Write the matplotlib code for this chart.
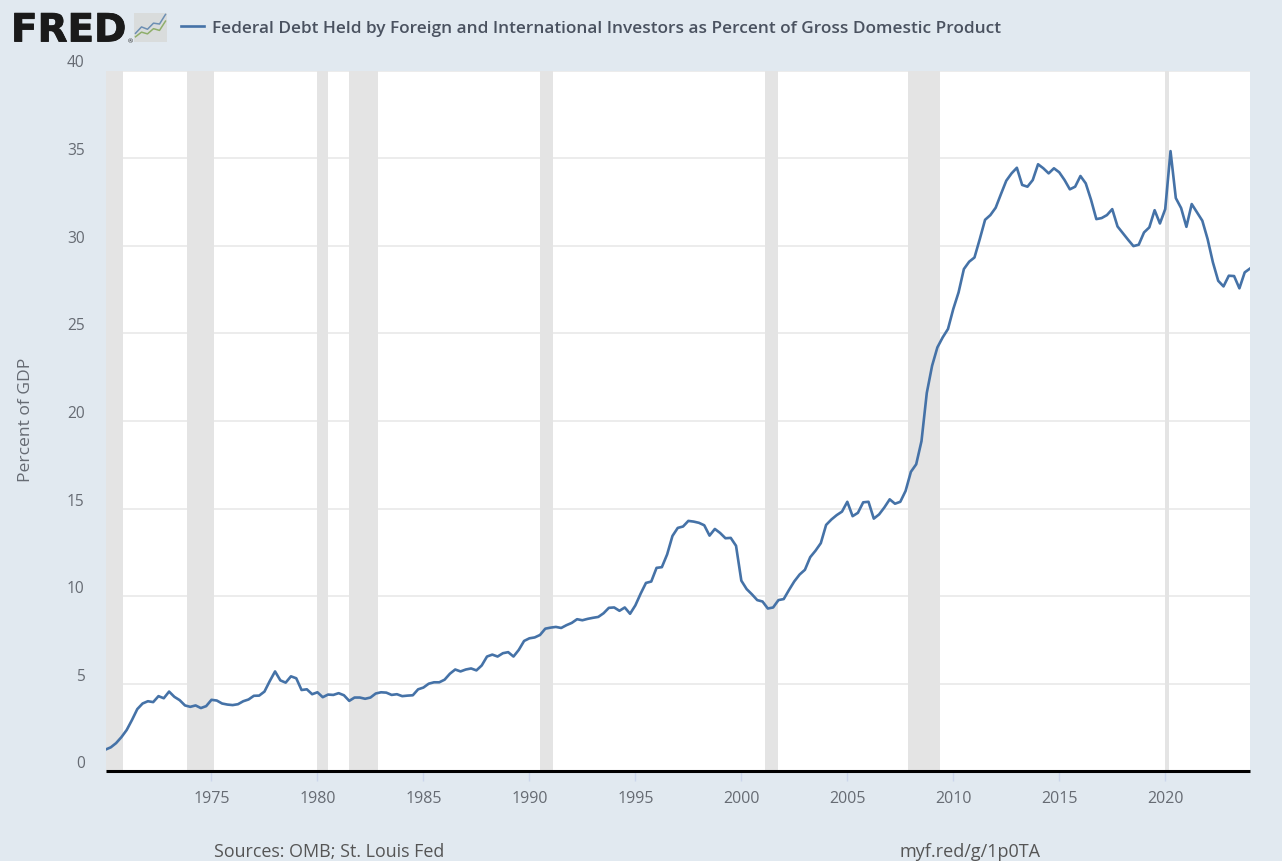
import numpy as np
import matplotlib
matplotlib.use("Agg")
import matplotlib.pyplot as plt
import matplotlib.patheffects as pe

plt.rcParams['font.family'] = ['Open Sans', 'DejaVu Sans']

# quarterly, starting 1970 Q1, percent of GDP
debt_pct = [
    1.25, 1.38, 1.62, 1.96, 2.37, 2.94, 3.56, 3.88, 4.01, 3.96, 4.30, 4.18,  # 1970-72
    4.56, 4.26, 4.07, 3.77, 3.69, 3.77, 3.62, 3.73, 4.09, 4.05, 3.88, 3.82,  # 1973-75
    3.79, 3.84, 4.01, 4.11, 4.32, 4.33, 4.56, 5.16, 5.71, 5.20, 5.07, 5.43,  # 1976-78
    5.32, 4.65, 4.69, 4.41, 4.52, 4.24, 4.39, 4.37, 4.47, 4.35, 4.03, 4.22,  # 1979-81
    4.22, 4.15, 4.22, 4.45, 4.52, 4.50, 4.37, 4.41, 4.30, 4.33, 4.35, 4.69,  # 1982-84
    4.79, 5.01, 5.09, 5.09, 5.24, 5.58, 5.82, 5.71, 5.82, 5.88, 5.77, 6.05,  # 1985-87
    6.56, 6.67, 6.56, 6.75, 6.81, 6.56, 6.94, 7.45, 7.60, 7.65, 7.79, 8.15,  # 1988-90
    8.21, 8.25, 8.19, 8.35, 8.48, 8.69, 8.63, 8.71, 8.77, 8.82, 9.03, 9.34,  # 1991-93
    9.36, 9.17, 9.36, 9.00, 9.48, 10.15, 10.76, 10.84, 11.62, 11.66, 12.39, 13.44,  # 1994-96
    13.90, 13.98, 14.30, 14.26, 14.19, 14.05, 13.46, 13.84, 13.61, 13.31, 13.33, 12.88,  # 1997-99
    10.89, 10.41, 10.11, 9.78, 9.70, 9.30, 9.36, 9.78, 9.84, 10.36, 10.85, 11.24,  # 2000-02
    11.51, 12.23, 12.60, 13.03, 14.07, 14.38, 14.63, 14.83, 15.39, 14.57, 14.76, 15.36,  # 2003-05
    15.39, 14.43, 14.67, 15.07, 15.53, 15.28, 15.39, 16.01, 17.10, 17.53, 18.85, 21.60,  # 2006-08
    23.15, 24.20, 24.77, 25.25, 26.39, 27.34, 28.67, 29.09, 29.33, 30.38, 31.48, 31.75,  # 2009-11
    32.17, 32.95, 33.71, 34.13, 34.45, 33.47, 33.37, 33.75, 34.65, 34.42, 34.13, 34.42,  # 2012-14
    34.19, 33.75, 33.22, 33.37, 33.98, 33.56, 32.62, 31.52, 31.58, 31.75, 32.09, 31.10,  # 2015-17
    30.72, 30.34, 29.98, 30.06, 30.76, 31.05, 32.03, 31.27, 32.09, 35.40, 32.72, 32.15,  # 2018-20
    31.08, 32.38, 31.90, 31.43, 30.38, 29.05, 28.00, 27.68, 28.29, 28.27, 27.57, 28.48,  # 2021-23
    28.70,  # 2024 Q1
]
years = 1970 + np.arange(len(debt_pct)) / 4

recession_start = [1970.0, 1973.85, 1980.0, 1981.5, 1990.5, 2001.13, 2007.87, 2020.01]
recession_end = [1970.82, 1975.12, 1980.5, 1982.85, 1991.13, 2001.75, 2009.36, 2020.17]

year_ticks = list(range(1975, 2021, 5))
pct_ticks = [0, 5, 10, 15, 20, 25, 30, 35, 40]

title = "Federal Debt Held by Foreign and International Investors as Percent of Gross Domestic Product"

W, H = 1282, 862
BG = '#e1e9f0'
LINE = '#4572a7'
TXT = '#666b73'

fig = plt.figure(figsize=(W / 100, H / 100), dpi=100, facecolor=BG)
ax = fig.add_axes([105.5 / W, 1 - 772.5 / H, (1250 - 105.5) / W, 701 / H])

for s, e in zip(recession_start, recession_end):
    ax.axvspan(s, e, color='#e4e4e4', lw=0, zorder=2)

ax.plot(years, debt_pct, color=LINE, lw=1.9, zorder=3, solid_joinstyle='round')

ax.set_xlim(1970, 2024)
ax.set_ylim(0, 40)
ax.set_xticks(year_ticks)
ax.set_yticks(pct_ticks)
ax.grid(axis='y', color='#ebebeb', lw=1.3, zorder=1)
ax.set_axisbelow(True)
for side in ['top', 'left', 'right']:
    ax.spines[side].set_visible(False)
ax.spines['bottom'].set_color('black')
ax.spines['bottom'].set_linewidth(2.2)
ax.spines['bottom'].set_zorder(5)
ax.spines['bottom'].set_capstyle('butt')
ax.spines['bottom'].set_position(('outward', -0.7))

ax.tick_params(axis='x', length=7, width=1, color='#ccd6eb', pad=6.7, labelsize=11.5, labelcolor=TXT)
ax.tick_params(axis='y', length=0, pad=15, labelsize=11.2, labelcolor=TXT)
# FRED puts the y labels just above their grid lines
for lab in ax.get_yticklabels():
    lab.set_verticalalignment('bottom')
    lab.set_horizontalalignment('right')

fig.text(26 / W, 1 - 420 / H, "Percent of GDP", rotation=90, ha='center', va='center',
         fontsize=12.6, color=TXT)

# header
logo = fig.text(11 / W, 1 - 42.5 / H, "FRED", family=['DejaVu Sans'], fontweight='bold',
                fontsize=28, color='#1a1a1a', ha='left', va='baseline')
logo.set_path_effects([pe.withStroke(linewidth=0.6, foreground='#1a1a1a')])
fig.text(128 / W, 1 - 43 / H, "®", fontsize=4.5, color='#1a1a1a', ha='left', va='baseline')

icon = fig.add_axes([134 / W, 1 - 43 / H, 33 / W, 29 / H], facecolor='#d9dcdc')
icon.plot([0, 2, 4, 6, 8, 10], [3, 5.2, 4.4, 6.5, 6.2, 9.5], color='#6d8fb3', lw=1.1)
icon.plot([0, 2, 4, 6, 8, 10], [1.8, 3.4, 2.8, 4.6, 4.0, 7.2], color='#8fae6a', lw=1.1)
icon.set_xlim(-0.5, 10.5)
icon.set_ylim(0, 10)
icon.set_xticks([])
icon.set_yticks([])
for side in icon.spines:
    icon.spines[side].set_visible(False)

fig.add_artist(plt.Line2D([181 / W, 204 / W], [1 - 27 / H, 1 - 27 / H], color=LINE, lw=1.9))
fig.text(212 / W, 1 - 29 / H, title, fontsize=12.4, fontweight='semibold', color='#4a5260',
         ha='left', va='center')

# footer
fig.text(214 / W, 1 - 852 / H, "Sources: OMB; St. Louis Fed", fontsize=12.9, color='#555555',
         ha='left', va='center')
fig.text(900 / W, 1 - 852 / H, "myf.red/g/1p0TA", fontsize=13, color='#555555',
         ha='left', va='center')

fig.savefig('out.png', dpi=100, facecolor=BG)
